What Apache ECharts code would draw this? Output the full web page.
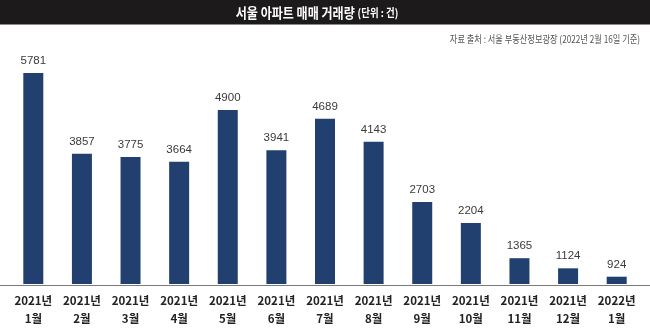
<!DOCTYPE html>
<html>
<head>
<meta charset="utf-8">
<script src="https://cdn.jsdelivr.net/npm/echarts@6/dist/echarts.min.js"></script>
<style>
  html, body { margin: 0; padding: 0; background: #ffffff; }
  #chart { width: 650px; height: 328px; }
</style>
</head>
<body>
<div id="chart"></div>
<script>
// Seoul apartment sales volume, monthly (unit: cases)
const years = ['2021년', '2021년', '2021년', '2021년', '2021년', '2021년', '2021년',
               '2021년', '2021년', '2021년', '2021년', '2021년', '2022년'];
const months = ['1월', '2월', '3월', '4월', '5월', '6월', '7월',
                '8월', '9월', '10월', '11월', '12월', '1월'];
const volumes = [5781, 3857, 3775, 3664, 4900, 3941, 4689, 4143, 2703, 2204, 1365, 1124, 924];

const titleMain = '서울 아파트 매매 거래량';
const titleUnit = '(단위 : 건)';
const sourceNote = '자료 출처 : 서울 부동산정보광장 (2022년 2월 16일 기준)';

const categories = years.map((y, i) => y + '\n' + months[i]);

const chart = echarts.init(document.getElementById('chart'), null, { renderer: 'canvas' });

chart.setOption({
  backgroundColor: '#ffffff',
  animation: false,
  grid: { left: 9, right: 9, top: 60, bottom: 43, containLabel: false },
  xAxis: {
    type: 'category',
    data: categories,
    axisLine: { show: false },
    axisTick: { show: false },
    axisLabel: {
      interval: 0,
      margin: 8,
      color: '#222222',
      fontFamily: '"Liberation Sans Narrow", "Noto Sans CJK KR", sans-serif',
      fontSize: 11.5,
      fontWeight: 'bold',
      lineHeight: 18
    }
  },
  yAxis: {
    type: 'value',
    min: 750,
    max: 6090,
    show: false,
    splitLine: { show: false }
  },
  series: [{
    type: 'bar',
    data: volumes,
    barWidth: 20,
    itemStyle: { color: '#21406f' },
    label: {
      show: true,
      position: 'top',
      distance: 6,
      color: '#3a3a3a',
      fontFamily: '"Liberation Sans Narrow", sans-serif',
      fontSize: 11.5
    }
  }],
  graphic: [
    {
      type: 'rect',
      z: 0,
      shape: { x: 0, y: 0, width: 650, height: 24 },
      style: { fill: '#1c1a1b' }
    },
    {
      type: 'line',
      z: 1,
      shape: { x1: 0, y1: 24.5, x2: 650, y2: 24.5 },
      style: { stroke: '#8a8a8a', lineWidth: 1 }
    },
    {
      type: 'text',
      z: 2,
      x: 317,
      y: 13,
      scaleX: 0.86,
      style: {
        text: '{a|' + titleMain + '} {b|' + titleUnit + '}',
        textAlign: 'center',
        textVerticalAlign: 'middle',
        rich: {
          a: { fill: '#ffffff', fontSize: 14, fontWeight: 'bold', fontFamily: '"Noto Sans CJK KR", sans-serif' },
          b: { fill: '#ffffff', fontSize: 11, fontWeight: 'bold', fontFamily: '"Noto Sans CJK KR", sans-serif' }
        }
      }
    },
    {
      type: 'text',
      z: 2,
      x: 640,
      y: 39,
      scaleX: 0.82,
      style: {
        text: sourceNote,
        textAlign: 'right',
        textVerticalAlign: 'middle',
        fill: '#555555',
        fontSize: 10,
        fontFamily: '"Noto Sans CJK KR", sans-serif'
      }
    },
    {
      type: 'line',
      z: 3,
      shape: { x1: 0, y1: 285.5, x2: 650, y2: 285.5 },
      style: { stroke: '#7a7a7a', lineWidth: 1 }
    }
  ]
});
</script>
</body>
</html>
